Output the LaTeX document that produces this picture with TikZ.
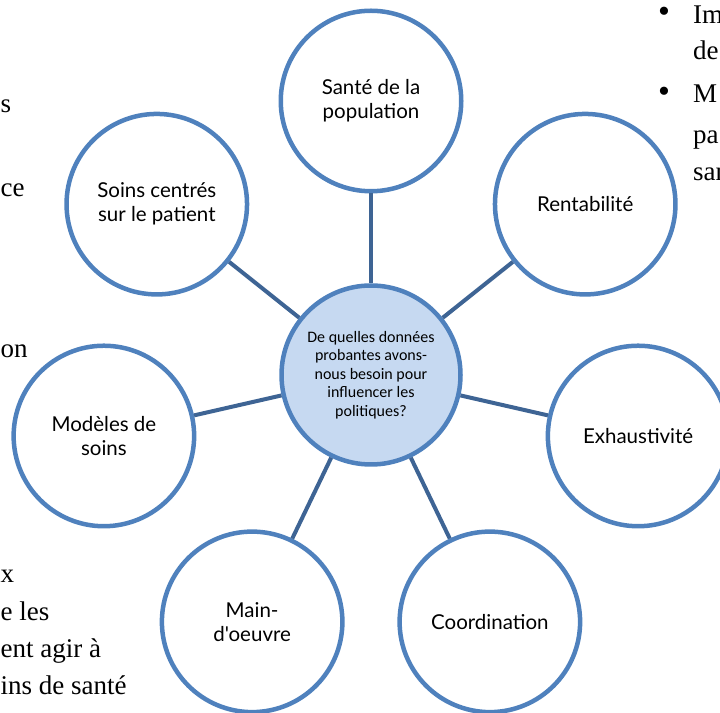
\documentclass[tikz,border=0pt]{standalone}
\usepackage{fontspec}
\setmainfont{Liberation Serif}
\newfontfamily\labelfont{Lato}
\newfontfamily\hubfont{Carlito}
\usetikzlibrary{positioning}

\definecolor{ringblue}{RGB}{79,129,189}
\definecolor{hubfill}{RGB}{198,217,241}
\definecolor{linkblue}{RGB}{62,100,148}

\begin{document}
\begin{tikzpicture}[
    x=1pt, y=1pt,
    satellite/.style={circle, draw=ringblue, line width=4.5pt, fill=white, minimum size=180.5pt, inner sep=0pt, align=center, font=\labelfont\fontsize{20.5}{24}\selectfont},
    hub/.style={circle, draw=ringblue, line width=4.5pt, fill=hubfill, minimum size=179pt, inner sep=0pt, align=center, font=\hubfont\fontsize{16}{18.5}\selectfont},
    link/.style={draw=linkblue, line width=4pt},
    backtext/.style={inner sep=0pt, font=\fontsize{27}{32}\selectfont},
    bullet/.style={inner sep=0pt, font=\fontsize{34}{34}\selectfont},
    ]

    % Cadre de la page
    \path[use as bounding box] (0,0) rectangle (720,712);
    \clip (0,0) rectangle (720,712);

    % Texte du document en arriere-plan
    \node[backtext, anchor=base west] (gauche1) at (0.5,599) {s};
    \node[backtext, anchor=base west] (gauche2) at (0.5,515) {ce};
    \node[backtext, anchor=base west] (gauche3) at (0.5,354) {on};
    \node[backtext, anchor=base west] (gauche4) at (0.5,129) {x};
    \node[backtext, anchor=base west] (gauche5) at (0.5,91) {e les};
    \node[backtext, anchor=base west] (gauche6) at (0.5,54) {ent agir à};
    \node[backtext, anchor=base west] (gauche7) at (0.5,17) {ins de santé};

    \node[bullet] (puce1) at (664,697) {•};
    \node[backtext, anchor=base west] (droite1) at (693,688) {Im};
    \node[backtext, anchor=base west] (droite2) at (693,652) {de};
    \node[bullet] (puce2) at (664,617) {•};
    \node[backtext, anchor=base west] (droite3) at (693,609) {M};
    \node[backtext, anchor=base west] (droite4) at (693,568) {pa};
    \node[backtext, anchor=base west] (droite5) at (693,531) {san};

    % Cercle central
    \node[hub] (Question) at (371,337) {De quelles données\\probantes avons-\\nous besoin pour\\influencer les\\politiques?};

    % Cercles autour
    \node[satellite] (Sante) at ([shift={(90:274)}]Question.center) {Santé de la\\population};
    \node[satellite] (Rentabilite) at ([shift={(38.57:274)}]Question.center) {Rentabilité};
    \node[satellite] (Exhaustivite) at ([shift={(-12.86:274)}]Question.center) {Exhaustivité};
    \node[satellite] (Coordination) at ([shift={(-64.29:274)}]Question.center) {Coordination};
    \node[satellite] (MainOeuvre) at ([shift={(-115.71:274)}]Question.center) {Main-\\d'oeuvre};
    \node[satellite] (Modeles) at ([shift={(-167.14:274)}]Question.center) {Modèles de\\soins};
    \node[satellite] (SoinsPatient) at ([shift={(141.43:274)}]Question.center) {Soins centrés\\sur le patient};

    % Liens
    \draw[link] (Question) -- (Sante);
    \draw[link] (Question) -- (Rentabilite);
    \draw[link] (Question) -- (Exhaustivite);
    \draw[link] (Question) -- (Coordination);
    \draw[link] (Question) -- (MainOeuvre);
    \draw[link] (Question) -- (Modeles);
    \draw[link] (Question) -- (SoinsPatient);

\end{tikzpicture}
\end{document}
